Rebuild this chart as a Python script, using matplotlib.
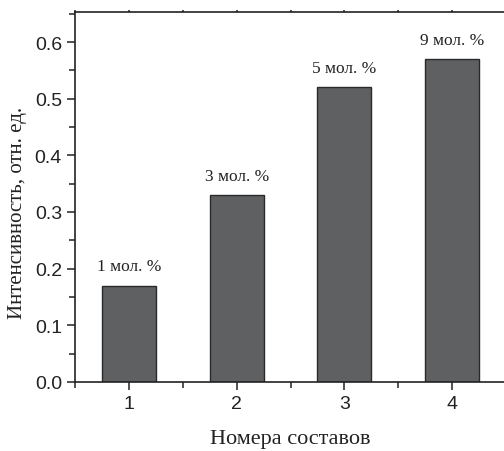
import matplotlib.pyplot as plt
from matplotlib.ticker import MultipleLocator

# Данные
sostavy = [1, 2, 3, 4]
intensivnost = [0.17, 0.33, 0.52, 0.57]
podpisi = ["1 мол. %", "3 мол. %", "5 мол. %", "9 мол. %"]

fig = plt.figure(figsize=(5.04, 4.52), dpi=100)
ax = fig.add_axes([0.149, 0.153, 0.855, 0.818])

ax.bar(sostavy, intensivnost, width=0.5, color='#5f6062', edgecolor='#2a2a2a', linewidth=1.0)

for xi, yi, s in zip(sostavy, intensivnost, podpisi):
    ax.annotate(s, (xi, yi), xytext=(0, 8), textcoords='offset points',
                ha='center', va='bottom', fontsize=12.5, family='Liberation Serif', color='#222222')

ax.set_xlim(0.5, 4.5)
ax.set_ylim(0, 0.653)
ax.xaxis.set_major_locator(MultipleLocator(1))
ax.xaxis.set_minor_locator(MultipleLocator(0.5))
ax.yaxis.set_major_locator(MultipleLocator(0.1))
ax.yaxis.set_minor_locator(MultipleLocator(0.05))

ax.spines['right'].set_visible(False)
for s in ['left', 'bottom', 'top']:
    ax.spines[s].set_linewidth(1.2)
    ax.spines[s].set_color('#222222')

ax.tick_params(which='major', direction='out', length=6, width=1.1, colors='#222222', labelsize=14)
ax.tick_params(which='minor', direction='out', length=4, width=1.1, colors='#222222')
ax.tick_params(axis='x', which='both', top=True, labeltop=False)
# на верхней оси - едва заметные риски
for t in ax.xaxis.get_major_ticks() + ax.xaxis.get_minor_ticks():
    t.tick2line.set_markersize(1.5)
    t.tick2line.set_color('#888888')
for lbl in ax.get_xticklabels() + ax.get_yticklabels():
    lbl.set_family('Liberation Sans')

ax.set_xlabel("Номера составов", fontsize=16, family='Liberation Serif', labelpad=12, color='#222222')
ax.set_ylabel("Интенсивность, отн. ед.", fontsize=15, family='Liberation Serif', color='#222222')
ax.yaxis.set_label_coords(-0.112, 0.46)

fig.savefig('out.png', dpi=100)
